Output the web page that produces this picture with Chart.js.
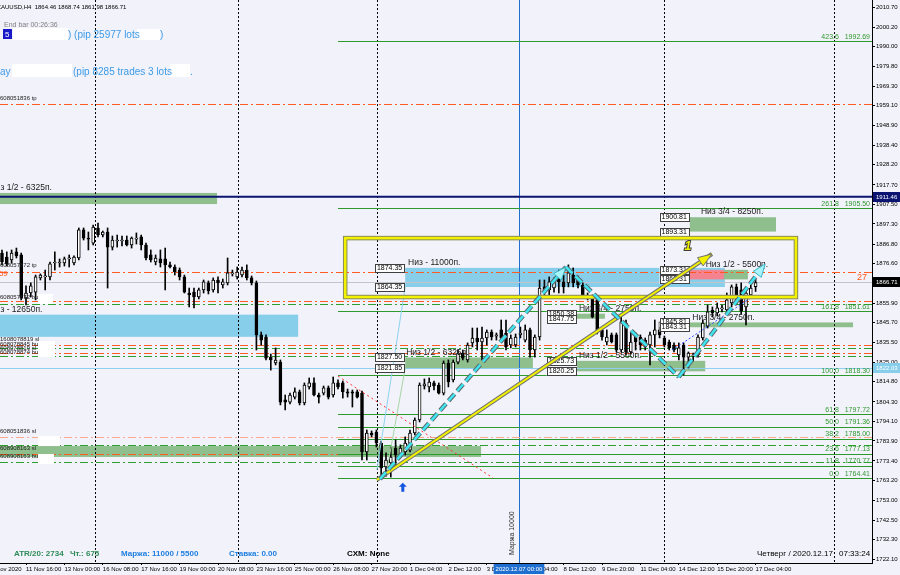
<!DOCTYPE html>
<html>
<head>
<meta charset="utf-8">
<title>XAUUSD,H4</title>
<script src="https://cdn.jsdelivr.net/npm/chart.js@4.4.1/dist/chart.umd.min.js"></script>
<style>
  html, body { margin: 0; padding: 0; background: #F2F2FA; }
  canvas { display: block; }
</style>
</head>
<body>
<canvas id="chart" width="900" height="575"></canvas>
<script>
// XAUUSD H4 bars, index 0 = 10 Nov 2020 20:00 ... index 157 = 17 Dec 2020 04:00
const opens = [
  1882.1, 1880.0, 1878.5, 1882.7, 1881.1, 1858.6, 1861.2, 1861.7, 1869.1, 1869.6,
  1869.6, 1876.9, 1876.9, 1876.9, 1879.0, 1876.9, 1879.5, 1894.2, 1889.9, 1887.3,
  1895.2, 1891.5, 1893.1, 1885.2, 1888.4, 1888.4, 1888.9, 1886.3, 1889.4, 1890.5,
  1886.3, 1881.1, 1877.4, 1879.0, 1879.0, 1875.9, 1874.8, 1873.2, 1869.6, 1861.2,
  1861.7, 1859.1, 1862.8, 1866.5, 1862.8, 1868.0, 1865.4, 1866.5, 1871.2, 1869.6,
  1870.6, 1873.2, 1869.1, 1866.5, 1839.3, 1838.2, 1827.7, 1824.6, 1825.1, 1805.3,
  1804.2, 1806.8, 1809.5, 1803.7, 1812.1, 1814.2, 1807.9, 1808.9, 1811.6, 1807.9,
  1814.2, 1814.2, 1809.5, 1809.5, 1809.5, 1808.9, 1778.1, 1788.0, 1788.5, 1782.8,
  1770.3, 1772.4, 1780.2, 1777.0, 1778.1, 1779.1, 1788.0, 1794.8, 1812.6, 1812.1,
  1814.2, 1813.1, 1808.9, 1824.6, 1815.8, 1825.1, 1829.8, 1826.2, 1835.1, 1837.7,
  1835.6, 1837.7, 1840.8, 1838.7, 1841.9, 1840.3, 1834.0, 1834.0, 1839.3, 1836.6,
  1841.9, 1831.4, 1838.2, 1864.4, 1862.8, 1863.8, 1871.7, 1867.0, 1866.5, 1870.6,
  1868.0, 1865.4, 1859.7, 1859.1, 1857.6, 1841.9, 1835.6, 1839.3, 1839.3, 1831.4,
  1845.5, 1830.4, 1839.3, 1838.2, 1836.6, 1834.0, 1839.3, 1841.9, 1837.7, 1835.6,
  1834.0, 1828.8, 1834.0, 1827.7, 1828.3, 1828.8, 1837.7, 1843.9, 1852.3, 1850.8,
  1852.9, 1852.3, 1856.0, 1864.4, 1862.8, 1853.9, 1860.2, 1864.46
];
const highs = [
  1883.7, 1882.7, 1883.7, 1884.7, 1882.1, 1864.9, 1866.5, 1870.6, 1871.2, 1873.2,
  1877.4, 1882.7, 1879.0, 1880.0, 1881.1, 1880.6, 1895.2, 1895.2, 1893.1, 1896.7,
  1897.8, 1893.6, 1895.2, 1891.0, 1891.5, 1891.0, 1891.0, 1890.5, 1892.6, 1891.5,
  1887.3, 1883.7, 1881.1, 1883.7, 1884.7, 1877.4, 1875.9, 1874.3, 1870.6, 1863.8,
  1863.8, 1863.8, 1868.0, 1867.5, 1869.1, 1869.6, 1868.5, 1879.5, 1873.2, 1874.8,
  1874.8, 1875.9, 1870.1, 1867.5, 1840.8, 1839.3, 1829.3, 1832.5, 1826.2, 1807.9,
  1808.9, 1811.6, 1810.5, 1814.2, 1816.8, 1816.8, 1808.9, 1812.6, 1812.6, 1817.3,
  1815.8, 1815.2, 1811.0, 1810.5, 1810.5, 1810.0, 1789.6, 1789.1, 1789.6, 1783.8,
  1777.6, 1780.7, 1784.4, 1781.8, 1786.0, 1789.6, 1795.9, 1814.2, 1816.3, 1816.8,
  1815.2, 1814.2, 1825.7, 1826.2, 1826.2, 1831.4, 1831.4, 1835.1, 1842.9, 1842.9,
  1843.4, 1841.9, 1841.9, 1840.3, 1847.1, 1847.1, 1839.3, 1839.8, 1843.4, 1844.5,
  1842.9, 1839.3, 1868.0, 1868.0, 1869.6, 1869.1, 1873.2, 1870.6, 1875.9, 1874.3,
  1870.1, 1866.5, 1861.2, 1860.2, 1858.6, 1842.9, 1841.9, 1840.3, 1840.3, 1848.7,
  1847.1, 1840.8, 1840.3, 1839.3, 1837.7, 1840.8, 1847.1, 1846.1, 1838.7, 1836.6,
  1835.1, 1835.1, 1835.1, 1830.4, 1829.8, 1839.3, 1847.1, 1854.9, 1853.9, 1856.0,
  1854.9, 1861.2, 1865.4, 1865.9, 1866.5, 1862.8, 1865.4, 1868.74
];
const lows = [
  1875.9, 1875.3, 1876.9, 1879.5, 1857.6, 1855.0, 1859.1, 1857.6, 1868.0, 1862.8,
  1868.0, 1873.2, 1874.8, 1875.3, 1874.8, 1875.9, 1878.5, 1888.9, 1883.7, 1886.3,
  1890.5, 1890.5, 1863.8, 1883.7, 1885.2, 1885.8, 1885.8, 1884.7, 1886.8, 1883.7,
  1878.5, 1877.4, 1875.9, 1874.8, 1862.8, 1874.3, 1870.6, 1868.0, 1861.2, 1853.9,
  1853.4, 1858.1, 1861.2, 1860.7, 1861.7, 1861.2, 1863.8, 1865.4, 1870.1, 1868.5,
  1869.6, 1868.0, 1865.4, 1831.4, 1834.0, 1826.2, 1820.9, 1823.6, 1802.7, 1800.1,
  1803.2, 1805.8, 1802.7, 1802.7, 1811.0, 1807.4, 1803.7, 1807.9, 1805.8, 1806.8,
  1811.0, 1806.3, 1806.8, 1801.6, 1806.3, 1773.9, 1773.9, 1786.0, 1780.7, 1764.41,
  1765.5, 1765.0, 1770.3, 1775.0, 1776.5, 1778.1, 1787.0, 1793.8, 1811.0, 1809.5,
  1810.5, 1808.4, 1807.9, 1812.1, 1814.7, 1824.1, 1826.2, 1825.1, 1833.0, 1831.4,
  1826.2, 1834.0, 1836.6, 1836.6, 1836.6, 1831.4, 1832.5, 1833.0, 1837.7, 1835.6,
  1827.7, 1827.7, 1836.6, 1859.1, 1860.2, 1861.7, 1861.2, 1861.2, 1864.4, 1864.4,
  1863.8, 1858.6, 1857.6, 1848.2, 1839.8, 1836.6, 1834.0, 1835.1, 1830.4, 1830.4,
  1828.8, 1829.3, 1831.4, 1831.4, 1831.4, 1823.6, 1833.0, 1837.7, 1833.0, 1831.4,
  1830.4, 1826.2, 1818.3, 1822.0, 1825.7, 1827.7, 1836.6, 1842.9, 1848.7, 1849.2,
  1851.3, 1850.8, 1853.9, 1855.0, 1850.2, 1844.5, 1858.6, 1861.98
];
const closes = [
  1877.4, 1876.4, 1882.1, 1880.6, 1858.6, 1861.2, 1864.9, 1869.6, 1870.6, 1870.1,
  1876.4, 1877.4, 1877.4, 1879.0, 1879.5, 1880.0, 1894.2, 1889.9, 1889.4, 1895.7,
  1891.5, 1893.1, 1885.2, 1888.9, 1888.9, 1888.9, 1886.3, 1889.9, 1889.9, 1886.3,
  1879.5, 1878.5, 1879.5, 1876.9, 1875.9, 1874.8, 1872.2, 1869.6, 1861.7, 1860.2,
  1859.1, 1862.8, 1867.0, 1862.3, 1868.0, 1866.5, 1867.0, 1871.7, 1871.7, 1872.2,
  1873.2, 1869.1, 1866.5, 1839.3, 1836.6, 1827.2, 1826.2, 1826.2, 1804.2, 1804.2,
  1807.9, 1809.5, 1803.7, 1813.1, 1814.2, 1807.9, 1806.8, 1811.6, 1806.8, 1814.2,
  1812.1, 1809.5, 1808.9, 1808.9, 1806.8, 1778.1, 1788.0, 1787.0, 1782.8, 1769.8,
  1773.9, 1775.5, 1776.5, 1780.2, 1782.8, 1788.0, 1794.8, 1813.1, 1813.7, 1814.7,
  1812.6, 1808.9, 1824.6, 1814.7, 1825.1, 1829.8, 1827.2, 1834.0, 1837.7, 1835.6,
  1837.7, 1840.8, 1838.2, 1839.3, 1837.7, 1833.0, 1837.7, 1838.2, 1840.3, 1841.9,
  1831.4, 1838.2, 1863.8, 1861.7, 1867.0, 1868.0, 1867.0, 1864.4, 1871.7, 1866.5,
  1865.4, 1859.1, 1859.1, 1848.7, 1840.8, 1838.2, 1838.2, 1835.6, 1831.4, 1846.1,
  1830.4, 1835.6, 1835.6, 1834.0, 1833.0, 1839.3, 1841.9, 1839.3, 1834.0, 1832.5,
  1831.4, 1832.5, 1827.7, 1829.8, 1828.8, 1838.2, 1845.5, 1851.3, 1850.8, 1853.4,
  1853.4, 1857.6, 1864.4, 1857.6, 1851.8, 1861.2, 1863.8, 1866.71
];

const timeTickIdx = [-3, 5, 13, 21, 29, 37, 45, 53, 61, 69, 77, 85, 93, 101, 109, 117, 125, 133, 141, 149, 157];
const timeTickText = ["10 Nov 2020", "11 Nov 16:00", "13 Nov 00:00", "16 Nov 08:00", "17 Nov 16:00",
  "19 Nov 00:00", "20 Nov 08:00", "23 Nov 16:00", "25 Nov 00:00", "26 Nov 08:00", "27 Nov 20:00",
  "1 Dec 04:00", "2 Dec 12:00", "3 Dec 20:00", "7 Dec 04:00", "8 Dec 12:00", "9 Dec 20:00",
  "11 Dec 04:00", "14 Dec 12:00", "15 Dec 20:00", "17 Dec 04:00"];
const priceTicks = [2010.70, 2000.20, 1990.00, 1979.80, 1969.30, 1959.10, 1948.90, 1938.40, 1928.20,
  1917.70, 1907.50, 1897.30, 1886.80, 1876.60, 1855.90, 1845.70, 1835.50, 1825.00, 1814.80,
  1804.30, 1794.10, 1783.90, 1773.40, 1763.20, 1753.00, 1742.50, 1732.30, 1722.10];

// horizontal objects
const tpLevels = [1960.0, 1872.2, 1856.8, 1834.0, 1830.1, 1776.8];
const slLevels = [1786.0];
const buyLevels = [1855.2, 1832.2, 1828.3, 1782.0, 1773.1];
const fibPct = ["423.6", "261.8", "161.8", "100.0", "61.8", "50.0", "38.2", "23.6", "11.8", "0.0"];
const fibPrice = [1992.69, 1905.50, 1851.61, 1818.30, 1797.72, 1791.36, 1785.00, 1777.13, 1770.77, 1764.41];
const fibFrom = 70;
const navyLevel = 1911.46;
const bidPrice = 1866.71;
const blueLevel = 1822.03;
const weekSeps = [19.4, 49.2, 78.1, 137.9, 173.3];
const marketBar = 107.7;

// zones: from bar, to bar, top price, bottom price
const greenZones = [[-1, 44.8, 1913.5, 1907.7], [-1, 99.8, 1781.2, 1775.5], [84, 110.6, 1827.50, 1821.85],
  [119.8, 146.5, 1825.73, 1820.25], [119.8, 125.6, 1850.38, 1847.75], [143.3, 177.3, 1845.81, 1843.31],
  [143.3, 161.25, 1900.81, 1893.31], [150.4, 155.4, 1873.31, 1868.31]];
const blueZones = [[-1, 61.7, 1849.9, 1838.3], [84, 150.6, 1874.35, 1864.35]];
const pinkZones = [[143.3, 150.4, 1873.31, 1868.31]];
const zoneNoteBar = [-2.6, -2.6, 84.6, 84.2, 120.2, 120.2, 145.6, 146.6, 143.8];
const zoneNotePrice = [1913.5, 1849.9, 1874.35, 1827.50, 1850.38, 1825.73, 1900.81, 1873.31, 1845.81];
const zoneNoteText = ["Низ 1/2 - 6325п.", "Низ - 12650п.", "Низ - 11000п.", "Низ 1/2 - 6325п.",
  "Низ 3/4 - 2750п.", "Низ 1/2 - 5500п.", "Низ 3/4 - 8250п.", "Низ 1/2 - 5500п.", "Низ 3/4 - 2750п."];
const tagBar = [84, 84, 84, 84, 119.8, 119.8, 119.8, 119.8, 143.3, 143.3, 143.3, 143.3, 143.3, 143.3];
const tagPrice = [1874.35, 1864.35, 1827.50, 1821.85, 1850.38, 1847.75, 1825.73, 1820.25,
  1900.81, 1893.31, 1873.31, 1868.31, 1845.81, 1843.31];
const orderTagText = ["608051836 tp", "608057872 tp", "608057872 buy", "1608078819 sl", "608078845 buy",
  "608078819 sl", "608078874 buy", "608051836 sl", "608908163 sl", "608908163 buy"];
const orderTagPrice = [1961.3, 1874.0, 1857.6, 1835.3, 1832.6, 1830.6, 1828.4, 1787.3, 1778.6, 1774.4];

// drawn objects (bar, price)
const zigzag = [[78.75, 1764.0], [117.5, 1874.8], [141, 1817.3], [159, 1876.4]];
const trendYellow = [[78.1, 1763.5], [147.9, 1881.6]];
const yellowFrame = [[71.5, 1889.9], [165.4, 1859.1]];
const redDotted = [[70, 1817.8], [102.3, 1764.5]];
const thinBlue = [[78.1, 1768.7], [84, 1864.35]];
const thinGreen = [[80.2, 1768.7], [84, 1821.85]];
const blueDotted = [[139.6, 1831.4], [156.3, 1859.1]];
const upArrow = [83.5, 1762.0];
const waveMark = [142.9, 1885.3];

function hasFont(name) {
  const c = document.createElement("canvas").getContext("2d");
  c.font = "20px monospace";
  const a = c.measureText("11 Nov 16:00 mmm").width;
  c.font = '20px "' + name + '", monospace';
  return c.measureText("11 Nov 16:00 mmm").width !== a;
}
const NARROW = hasFont("Liberation Sans Narrow");
const AXF = NARROW ? "Liberation Sans Narrow" : "Liberation Sans";
const AXS = NARROW ? 7.5 : 6;

function line(ctx, x1, y1, x2, y2, color, width, dash) {
  ctx.strokeStyle = color;
  ctx.lineWidth = width;
  ctx.setLineDash(dash || []);
  ctx.beginPath();
  ctx.moveTo(x1, y1);
  ctx.lineTo(x2, y2);
  ctx.stroke();
  ctx.setLineDash([]);
}

function arrowHead(ctx, x1, y1, x2, y2, len, half, fill, edge) {
  const a = Math.atan2(y2 - y1, x2 - x1);
  ctx.beginPath();
  ctx.moveTo(x2, y2);
  ctx.lineTo(x2 - len * Math.cos(a) + half * Math.sin(a), y2 - len * Math.sin(a) - half * Math.cos(a));
  ctx.lineTo(x2 - len * Math.cos(a) - half * Math.sin(a), y2 - len * Math.sin(a) + half * Math.cos(a));
  ctx.closePath();
  ctx.fillStyle = fill;
  ctx.fill();
  ctx.strokeStyle = edge;
  ctx.lineWidth = 1;
  ctx.stroke();
}

function priceTag(ctx, xr, y, text) {
  ctx.font = '7px "' + AXF + '"';
  const w = ctx.measureText(text).width + 4;
  ctx.fillStyle = "#FFFFFF";
  ctx.fillRect(xr - w, Math.round(y) - 4, w, 9);
  ctx.strokeStyle = "#404040";
  ctx.lineWidth = 1;
  ctx.strokeRect(Math.round(xr - w) + 0.5, Math.round(y) - 3.5, Math.round(w), 8);
  ctx.fillStyle = "#000";
  ctx.textAlign = "left";
  ctx.textBaseline = "middle";
  ctx.fillText(text, xr - w + 2, Math.round(y) + 0.5);
}

function axisTag(ctx, area, y, text, bg, fg) {
  ctx.fillStyle = bg;
  ctx.fillRect(area.right + 1, Math.round(y) - 5, 27, 10);
  ctx.fillStyle = fg;
  ctx.font = AXS + 'px "' + AXF + '"';
  ctx.textAlign = "left";
  ctx.textBaseline = "middle";
  ctx.fillText(text, area.right + 4, Math.round(y) + 0.5);
}

const metaTrader = {
  id: "metaTrader",
  beforeDraw(chart) {
    const ctx = chart.ctx;
    ctx.save();
    ctx.fillStyle = "#F2F2FA";
    ctx.fillRect(0, 0, chart.width, chart.height);
    ctx.restore();
  },
  beforeDatasetsDraw(chart) {
    const ctx = chart.ctx, a = chart.chartArea;
    const X = v => chart.scales.x.getPixelForValue(v);
    const Y = v => chart.scales.y.getPixelForValue(v);
    const snap = v => Math.round(v) + 0.5;
    ctx.save();
    ctx.beginPath();
    ctx.rect(a.left, a.top, a.right - a.left, a.bottom - a.top);
    ctx.clip();

    // zones
    const zone = (z, color) => {
      ctx.fillStyle = color;
      ctx.fillRect(X(z[0]), Y(z[2]), X(z[1]) - X(z[0]), Y(z[3]) - Y(z[2]));
    };
    blueZones.forEach(z => zone(z, "#87CEEB"));
    greenZones.forEach(z => zone(z, "#8FBF8C"));
    pinkZones.forEach(z => zone(z, "#F4828F"));

    // separators
    weekSeps.forEach(b => line(ctx, snap(X(b)), a.top, snap(X(b)), a.bottom, "#000", 1, [2, 2]));
    line(ctx, snap(X(marketBar)), a.top, snap(X(marketBar)), a.bottom, "#1F6FD0", 1);

    // order lines
    line(ctx, a.left, snap(Y(bidPrice)), a.right, snap(Y(bidPrice)), "#C4C4CC", 1);
    line(ctx, a.left, snap(Y(blueLevel)), a.right, snap(Y(blueLevel)), "#8FD0F0", 1);
    tpLevels.forEach(p => line(ctx, a.left, snap(Y(p)), a.right, snap(Y(p)), "#FF5A1F", 1, [8, 3, 2, 3]));
    slLevels.forEach(p => line(ctx, a.left, snap(Y(p)), a.right, snap(Y(p)), "#FFA88A", 1, [8, 3, 2, 3]));
    buyLevels.forEach(p => line(ctx, a.left, snap(Y(p)), a.right, snap(Y(p)), "#2CA02C", 1, [8, 3, 2, 3]));
    line(ctx, a.left, Y(navyLevel), a.right, Y(navyLevel), "#0B1470", 2);

    // fibo levels
    ctx.font = '7px "' + AXF + '"';
    ctx.textAlign = "right";
    ctx.textBaseline = "bottom";
    fibPrice.forEach((p, k) => {
      line(ctx, X(fibFrom), snap(Y(p)), a.right, snap(Y(p)), "#2E9A2E", 1);
      ctx.fillStyle = "#2E9A2E";
      ctx.fillText(fibPct[k] + "   " + p.toFixed(2), a.right - 2, Y(p) - 1);
    });
    ctx.restore();
  },
  afterDatasetsDraw(chart) {
    const ctx = chart.ctx, a = chart.chartArea;
    const X = v => chart.scales.x.getPixelForValue(v);
    const Y = v => chart.scales.y.getPixelForValue(v);
    ctx.save();
    ctx.beginPath();
    ctx.rect(a.left, a.top, a.right - a.left, a.bottom - a.top);
    ctx.clip();

    // thin helper lines
    line(ctx, X(thinBlue[0][0]), Y(thinBlue[0][1]), X(thinBlue[1][0]), Y(thinBlue[1][1]), "#8CD3F0", 1);
    line(ctx, X(thinGreen[0][0]), Y(thinGreen[0][1]), X(thinGreen[1][0]), Y(thinGreen[1][1]), "#A6D6A6", 1);
    line(ctx, X(redDotted[0][0]), Y(redDotted[0][1]), X(redDotted[1][0]), Y(redDotted[1][1]), "#FF3030", 1, [2, 3]);
    line(ctx, X(blueDotted[0][0]), Y(blueDotted[0][1]), X(blueDotted[1][0]), Y(blueDotted[1][1]), "#3050FF", 1, [2, 2]);

    // zone notes and price tags
    ctx.font = '8.5px "Liberation Sans"';
    ctx.textAlign = "left";
    ctx.textBaseline = "bottom";
    ctx.fillStyle = "#1A1A1A";
    zoneNoteText.forEach((t, k) => ctx.fillText(t, X(zoneNoteBar[k]), Y(zoneNotePrice[k]) - 1));
    tagPrice.forEach((p, k) => priceTag(ctx, X(tagBar[k]) - 1, Y(p), p.toFixed(2)));

    // order labels on the left edge
    ctx.font = '6px "' + AXF + '"';
    ctx.textAlign = "left";
    ctx.textBaseline = "bottom";
    ctx.fillStyle = "#202020";
    orderTagText.forEach((t, k) => ctx.fillText(t, a.left, Y(orderTagPrice[k])));
    ctx.fillStyle = "#FF5A1F";
    ctx.font = '8px "Liberation Sans"';
    ctx.fillText("1859", a.left - 10, Y(1869.4));
    ctx.fillStyle = "#FFFFFF";
    [[38, 294, 15, 10], [38, 341, 17, 16], [38, 436, 22, 10], [38, 454, 16, 10]].forEach(r => ctx.fillRect(r[0], r[1], r[2], r[3]));
    ctx.font = '9px "Liberation Sans"';
    ctx.fillStyle = "#FF5A1F";
    ctx.textAlign = "right";
    ctx.textBaseline = "top";
    ctx.fillText("27", a.right - 5, Y(tpLevels[1]) + 1);

    // yellow frame
    const fx1 = X(yellowFrame[0][0]), fy1 = Y(yellowFrame[0][1]);
    const fx2 = X(yellowFrame[1][0]), fy2 = Y(yellowFrame[1][1]);
    ctx.strokeStyle = "#8A8A60";
    ctx.lineWidth = 4.5;
    ctx.strokeRect(fx1, fy1, fx2 - fx1, fy2 - fy1);
    ctx.strokeStyle = "#F2F200";
    ctx.lineWidth = 2.5;
    ctx.strokeRect(fx1, fy1, fx2 - fx1, fy2 - fy1);

    // yellow trend arrow
    const tx1 = X(trendYellow[0][0]), ty1 = Y(trendYellow[0][1]);
    const tx2 = X(trendYellow[1][0]), ty2 = Y(trendYellow[1][1]);
    line(ctx, tx1, ty1, tx2, ty2, "#707070", 4);
    line(ctx, tx1, ty1, tx2, ty2, "#F2F200", 2);
    arrowHead(ctx, tx1, ty1, tx2, ty2, 14, 5, "#F2F200", "#707070");

    // cyan zigzag
    for (let k = 0; k < zigzag.length - 1; k++) {
      const x1 = X(zigzag[k][0]), y1 = Y(zigzag[k][1]);
      const x2 = X(zigzag[k + 1][0]), y2 = Y(zigzag[k + 1][1]);
      line(ctx, x1, y1, x2, y2, "#5A6A70", 4.5, [9, 4]);
      line(ctx, x1, y1, x2, y2, "#3FE6F0", 2.5, [9, 4]);
      if (k !== 1) arrowHead(ctx, x1, y1, x2, y2, 13, 5, "#A8F4F8", "#3AB8C8");
    }

    // blue buy arrow
    const ux = X(upArrow[0]), uy = Y(upArrow[1]);
    ctx.fillStyle = "#1456E0";
    ctx.beginPath();
    ctx.moveTo(ux, uy);
    ctx.lineTo(ux + 4, uy + 4);
    ctx.lineTo(ux + 1.5, uy + 4);
    ctx.lineTo(ux + 1.5, uy + 9);
    ctx.lineTo(ux - 1.5, uy + 9);
    ctx.lineTo(ux - 1.5, uy + 4);
    ctx.lineTo(ux - 4, uy + 4);
    ctx.closePath();
    ctx.fill();

    // wave mark "1"
    ctx.font = 'italic bold 12px "Liberation Sans"';
    ctx.textAlign = "center";
    ctx.textBaseline = "middle";
    ctx.lineWidth = 2;
    ctx.strokeStyle = "#404040";
    ctx.strokeText("1", X(waveMark[0]), Y(waveMark[1]));
    ctx.fillStyle = "#F2F200";
    ctx.fillText("1", X(waveMark[0]), Y(waveMark[1]));

    // vertical line caption
    ctx.save();
    ctx.translate(X(marketBar) - 3, a.bottom - 8);
    ctx.rotate(-Math.PI / 2);
    ctx.font = '7px "Liberation Sans"';
    ctx.fillStyle = "#303030";
    ctx.textAlign = "left";
    ctx.textBaseline = "bottom";
    ctx.fillText("Маржа 10000", 0, 0);
    ctx.restore();
    ctx.restore();
  },
  afterDraw(chart) {
    const ctx = chart.ctx, a = chart.chartArea;
    const X = v => chart.scales.x.getPixelForValue(v);
    const Y = v => chart.scales.y.getPixelForValue(v);
    ctx.save();

    // price tags on the axis
    axisTag(ctx, a, Y(navyLevel), navyLevel.toFixed(2), "#0B1470", "#FFFFFF");
    axisTag(ctx, a, Y(bidPrice), bidPrice.toFixed(2), "#000000", "#FFFFFF");
    axisTag(ctx, a, Y(blueLevel), blueLevel.toFixed(2), "#87CEEB", "#FFFFFF");

    // time tag of the vertical line
    ctx.font = AXS + 'px "' + AXF + '"';
    const tt = "2020.12.07 00:00";
    const tw = ctx.measureText(tt).width + 4;
    ctx.fillStyle = "#1F6FD0";
    ctx.fillRect(X(marketBar) - tw / 2, a.bottom + 1, tw, 10);
    ctx.fillStyle = "#FFFFFF";
    ctx.textAlign = "center";
    ctx.textBaseline = "middle";
    ctx.fillText(tt, X(marketBar), a.bottom + 6.5);

    // header texts
    ctx.textAlign = "left";
    ctx.textBaseline = "alphabetic";
    ctx.font = '6px "' + AXF + '"';
    ctx.fillStyle = "#000";
    ctx.fillText("XAUUSD,H4  1864.46 1868.74 1861.98 1866.71", -3, 9);
    ctx.font = '7px "Liberation Sans"';
    ctx.fillStyle = "#808080";
    ctx.fillText("End bar 00:26:36", 4, 27);
    ctx.fillStyle = "#1818C8";
    ctx.fillRect(3, 29, 9, 10);
    ctx.fillStyle = "#FFFFFF";
    ctx.font = '8px "Liberation Sans"';
    ctx.fillText("5", 5, 37);
    ctx.fillRect(13, 28, 55, 12);
    ctx.fillRect(137, 29, 23, 11);
    ctx.fillRect(12, 64, 60, 13);
    ctx.fillRect(170, 64, 20, 13);
    ctx.font = '10px "Liberation Sans"';
    ctx.fillStyle = "#3C9BE8";
    ctx.fillText(") (pip 25977 lots", 68, 38);
    ctx.fillText(")", 160, 38);
    ctx.fillText("ay", 0, 75);
    ctx.fillText("(pip 8285 trades 3 lots", 73, 75);
    ctx.fillText(".", 190, 75);

    // status line
    ctx.font = 'bold 8px "Liberation Sans"';
    ctx.fillStyle = "#2E8B57";
    ctx.fillText("ATR/20: 2734", 14, 556);
    ctx.fillText("Чт.: 675", 70, 556);
    ctx.fillStyle = "#1E7FE0";
    ctx.fillText("Маржа: 11000 / 5500", 121, 556);
    ctx.fillText("Ставка: 0.00", 229, 556);
    ctx.fillStyle = "#000";
    ctx.fillText("CXM: None", 347, 556);
    ctx.font = '8px "Liberation Sans"';
    ctx.fillText("Четверг / 2020.12.17", 757, 556);
    ctx.fillText("07:33:24", 839, 556);
    ctx.restore();
  }
};

new Chart(document.getElementById("chart"), {
  type: "bar",
  data: {
    datasets: [
      {
        label: "body",
        data: opens.map((o, i) => ({ x: i, y: [o, closes[i]] })),
        backgroundColor: opens.map((o, i) => closes[i] >= o ? "#FFFFFF" : "#000000"),
        borderColor: "#000000",
        borderWidth: 1,
        borderSkipped: false,
        barThickness: 3,
        minBarLength: 1,
        grouped: false,
        order: 0
      },
      {
        label: "wick",
        data: lows.map((l, i) => ({ x: i, y: [l, highs[i]] })),
        backgroundColor: "#000000",
        barThickness: 1,
        grouped: false,
        order: 1
      }
    ]
  },
  options: {
    responsive: false,
    animation: false,
    devicePixelRatio: 1,
    layout: { padding: 0 },
    plugins: { legend: { display: false }, tooltip: { enabled: false } },
    scales: {
      x: {
        type: "linear",
        position: "bottom",
        offset: false,
        min: -0.4167,
        max: 181.25,
        afterBuildTicks: s => { s.ticks = timeTickIdx.map(v => ({ value: v })); },
        afterFit: s => { s.height = 12; s.paddingLeft = 0; s.paddingRight = 0; },
        ticks: {
          autoSkip: false,
          maxRotation: 0,
          minRotation: 0,
          align: "start",
          padding: 1,
          color: "#000",
          font: { family: AXF, size: AXS },
          callback: v => timeTickText[timeTickIdx.indexOf(v)]
        },
        grid: { display: true, drawOnChartArea: false, tickLength: 2, color: "#000", offset: false },
        border: { display: true, color: "#000" }
      },
      y: {
        type: "linear",
        position: "right",
        min: 1720.07,
        max: 2014.36,
        afterBuildTicks: s => { s.ticks = priceTicks.map(v => ({ value: v })); },
        afterFit: s => { s.width = 28; s.paddingTop = 0; s.paddingBottom = 0; },
        ticks: {
          padding: 1,
          color: "#000",
          font: { family: AXF, size: AXS },
          callback: v => v.toFixed(2)
        },
        grid: { drawOnChartArea: false, tickLength: 3, color: "#000" },
        border: { display: true, color: "#000" }
      }
    }
  },
  plugins: [metaTrader]
});
</script>
</body>
</html>
